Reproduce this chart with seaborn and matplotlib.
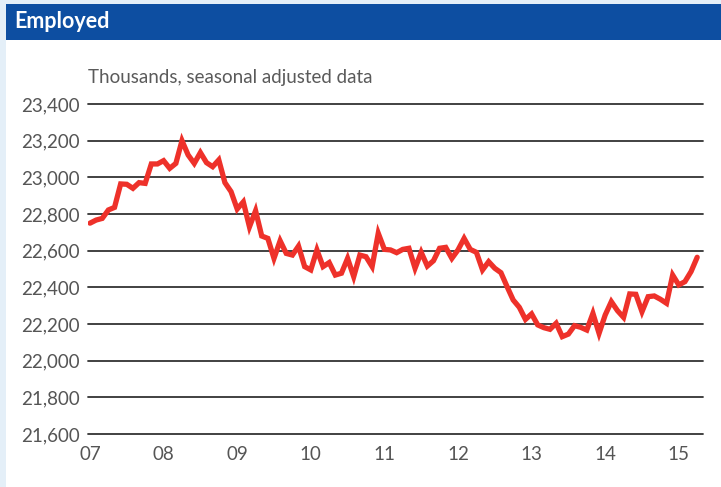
import numpy as np
import pandas as pd
import matplotlib
matplotlib.use("Agg")
import matplotlib.pyplot as plt
import seaborn as sns
from matplotlib.patches import Rectangle

# ===== 数据 (thousands, monthly from Jan 2007) =====
employed = [
    22750, 22767, 22776, 22822, 22836, 22964, 22962, 22940, 22971, 22967,
    23073, 23073, 23091, 23049, 23076, 23200, 23122, 23076, 23135, 23080,
    23058, 23095, 22971, 22922, 22827, 22866, 22730, 22818, 22680, 22667,
    22558, 22654, 22585, 22576, 22625, 22513, 22495, 22604, 22513, 22535,
    22467, 22477, 22558, 22458, 22576, 22567, 22513, 22695, 22607, 22604,
    22589, 22607, 22613, 22504, 22591, 22516, 22545, 22613, 22618, 22558,
    22604, 22667, 22607, 22591, 22495, 22540, 22504, 22480, 22404, 22331,
    22291, 22225, 22255, 22195, 22180, 22171, 22204, 22131, 22145, 22191,
    22182, 22167, 22258, 22149, 22249, 22322, 22273, 22236, 22364, 22362,
    22267, 22349, 22353, 22335, 22313, 22467, 22413, 22431, 22486, 22564,
]
start_year = 2007
year_ticks = list(range(2007, 2016))
year_labels = ["07", "08", "09", "10", "11", "12", "13", "14", "15"]
y_ticks = [21600, 21800, 22000, 22200, 22400, 22600, 22800, 23000, 23200, 23400]

df = pd.DataFrame({
    "t": start_year + np.arange(len(employed)) / 12,
    "employed": employed,
})

sns.set_style("white")
plt.rcParams["font.family"] = ["Lato", "DejaVu Sans"]

W, H = 721, 487
fig = plt.figure(figsize=(W / 100, H / 100), dpi=100)
fig.patch.set_facecolor("#e4eff8")

# 白色面板 + 蓝色标题栏
fig.patches.append(Rectangle((6 / W, 0), 1, (H - 40) / H, transform=fig.transFigure,
                             facecolor="white", edgecolor="none", zorder=-2))
fig.patches.append(Rectangle((6 / W, (H - 40) / H), 1, 36 / H, transform=fig.transFigure,
                             facecolor="#0d4ea1", edgecolor="none", zorder=-2))
fig.text(14 / W, (H - 22) / H, "Employed", color="white", fontsize=15.5,
         fontweight="bold", va="center", ha="left")

ax = fig.add_axes([88 / W, (H - 434) / H, (703 - 88) / W, 330 / H])
ax.set_facecolor("none")

for yv in y_ticks:
    ax.axhline(yv, color="#333333", lw=1.3, clip_on=False, zorder=1)

sns.lineplot(data=df, x="t", y="employed", ax=ax, color="#ee312a", lw=3.8,
             solid_joinstyle="miter", zorder=3)

ax.set_ylim(21600, 23400)
ax.set_xlim(2006.973, 2006.973 + 615 / 73.6)
ax.set_yticks(y_ticks)
ax.set_yticklabels([f"{v:,}" for v in y_ticks])
ax.set_xticks(year_ticks)
ax.set_xticklabels(year_labels)
ax.tick_params(axis="both", length=0, labelsize=13.5, labelcolor="#555555")
ax.tick_params(axis="y", pad=6)
ax.tick_params(axis="x", pad=9)
ax.set_xlabel("")
ax.set_ylabel("")
for s in ax.spines.values():
    s.set_visible(False)

fig.text(88 / W, (H - 77) / H, "Thousands, seasonal adjusted data", color="#5a5a5a",
         fontsize=13.5, va="center", ha="left")

plt.savefig("out.png", dpi=100, facecolor=fig.get_facecolor())
plt.close()
print("Saved: out.png")
